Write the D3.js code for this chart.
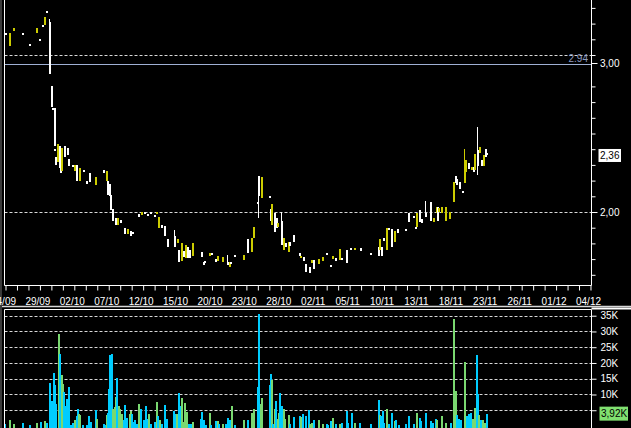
<!DOCTYPE html>
<html><head><meta charset="utf-8">
<script src="https://cdn.jsdelivr.net/npm/d3@7"></script>
<style>
html,body{margin:0;padding:0;background:#000;}
svg{display:block;}
text{font-family:"Liberation Sans",Arial,sans-serif;font-size:10px;}
</style></head>
<body>
<svg id="c" width="631" height="428"></svg>
<script>
// ---------- DATA ----------
// trading-day labels (every 3rd trading day, 2009)
const dateLabels = ["24/09","29/09","02/10","07/10","12/10","15/10","20/10","23/10","28/10",
  "02/11","05/11","10/11","13/11","18/11","23/11","26/11","01/12","04/12"];
// price bars: [slot (1/8 trading day), open, close, high?, low?]
const priceBars = [
 [2,3.14,3.13],[5,3.06,3.14],[8,3.15,3.17],[14,3.14,3.13],[19,3.07,3.06],[24,3.14,3.17],
 [26,3.10,3.09],[28,3.19,3.18],[29,3.19,3.24],[31,3.28,3.27],[33,3.21,2.88,3.23,2.88],
 [34,2.80,2.67],[35,2.665,2.65],[36,2.66,2.42],[36.3,2.40,2.39],[37,2.35,2.30],
 [38.7,2.32,2.43],[39.8,2.42,2.28],[40.5,2.30,2.25],[41.2,2.26,2.41],[43.2,2.42,2.35],
 [45,2.41,2.36],[46,2.34,2.29],[49,2.30,2.29],[50,2.28,2.265],[50.5,2.26,2.30],
 [51.6,2.30,2.20],[53.4,2.20,2.28],[56.5,2.27,2.26],[58.6,2.20,2.18],[60.7,2.25,2.19],
 [65.2,2.17,2.22],[70.4,2.27,2.25],[72.5,2.20,2.26],[73.2,2.20,2.11],[74.6,2.18,2.10],
 [75.3,2.11,2.01],[77,2.02,1.94],[78.5,1.96,1.92],[80,1.92,1.96],[82,1.95,1.93],
 [85,1.90,1.86],[87,1.86,1.89],[89,1.88,1.85],[91,1.87,1.86],[95,1.99,1.97],
 [97,1.98,2.00],[99,2.00,1.99],[101,1.99,1.98],[103.2,2.00,1.99],[105.7,1.98,1.97],
 [107.4,1.99,2.00],[108.5,1.90,1.97],[110.9,1.92,1.90],[113,1.91,1.85],[115.1,1.83,1.78],
 [120,1.85,1.78,1.885],[122,1.80,1.83],[122.8,1.76,1.68],[124.9,1.69,1.80],
 [126.2,1.75,1.715],[127.6,1.71,1.79],[129,1.78,1.71],[130.4,1.76,1.71],[132.2,1.72,1.80],
 [138.5,1.747,1.715],[140.2,1.68,1.66],[141.2,1.69,1.68],[144.4,1.72,1.74],
 [145.8,1.739,1.726],[148.6,1.70,1.68],[150,1.69,1.72],[153.5,1.68,1.715],
 [157,1.684,1.663,1.726],[158.6,1.65,1.68],[159.3,1.68,1.667],[161.8,1.726,1.715],
 [168.1,1.694,1.726],[170.9,1.83,1.74],[173.7,1.747,1.834],[175.1,1.834,1.905],
 [177.5,2.066,2.057],[178.6,2.23,2.10,2.23,1.96],[180.3,2.09,2.22],[186.2,2.102,2.091],
 [186.9,2.02,1.945],[187.6,1.917,2.051],[189.7,1.996,1.875],[191.1,1.962,1.898],
 [191.8,1.906,1.932],[194.3,1.94,1.79,2.00],[196,1.758,1.834],[197.4,1.80,1.78],
 [199.5,1.745,1.81],[200.5,1.81,1.785],[203,1.853,1.81],[206.8,1.739,1.72],
 [207.9,1.712,1.72],[210,1.712,1.69],[211.3,1.669,1.62],[213.8,1.652,1.613],
 [215.5,1.677,1.694],[217,1.694,1.635],[220.4,1.669,1.699],[222.9,1.688,1.712],
 [226.3,1.74,1.726],[228.8,1.662,1.648],[230.2,1.699,1.72],[232.3,1.705,1.69],
 [235.1,1.694,1.764],[236.4,1.705,1.694],[240,1.758,1.677],[243,1.769,1.758],
 [245.2,1.758,1.769],[249.4,1.769,1.754],[256.7,1.74,1.726],[262,1.78,1.72],
 [263,1.76,1.83],[264.5,1.78,1.72],[265.7,1.832,1.817],[267.8,1.758,1.90],
 [269.2,1.896,1.885],[271.3,1.892,1.779],[273.4,1.807,1.88],[275.2,1.89,1.864],
 [281.1,1.892,1.879],[283.2,1.992,1.938],[286.7,1.975,1.96],[288,1.906,1.896],
 [288.8,1.903,1.996],[290.9,2.013,1.938],[292,1.954,1.932],[295,1.996,1.97,2.07],
 [298.5,2.066,1.945],[300.3,1.938,1.96],[302.4,1.996,2.034],[303.3,2.034,1.945],
 [304.1,2.002,2.024],[305.9,1.992,2.034],[309,1.945,2.034],[311.8,1.955,1.998],
 [314.6,2.066,2.193],[315.6,2.229,2.183],[316.7,2.21,2.172],[318.8,2.193,2.147],
 [320.9,2.136,2.123],[322.2,2.187,2.299,2.40],[323.2,2.257,2.331],[324.7,2.314,2.272],
 [327.1,2.267,2.289],[328.5,2.289,2.257],[329.2,2.267,2.369],[331,2.395,2.295,2.543,2.236],
 [332.4,2.374,2.416],[334.1,2.331,2.293],[335.5,2.293,2.363],[336.9,2.401,2.352],
 [337.6,2.376,2.36]
];
// volume bars: [slot, volume (thousands), up(1)/down(0)]
const volumeBars = [
 [1.4,0.6,0],[4.9,1.9,1],[7.7,0.6,1],[14,1.0,0],[18.8,0.3,0],[23.7,1.0,1],[26.5,1.3,0],
 [29.3,1.6,1],[30.7,0.9,0],[32.8,13.6,0],[34.2,7.9,0],[35.6,16.8,0],[36.3,13,0],[37,7,0],
 [39.1,29.2,1],[39.8,22.9,0],[41.2,16.2,1],[41.9,13.3,1],[42.5,10.8,0],[43.9,6.3,0],
 [44.6,8.6,0],[46,12.4,0],[47.4,0.3,0],[48.8,1.0,0],[50.2,1.9,1],[51.6,3.2,0],[52.3,5.4,0],
 [53,3.8,1],[53.7,3.5,1],[55.8,0.3,0],[58.6,0.3,0],[60,3.2,0],[61.4,1.3,0],[64.9,5.1,0],
 [65.6,2.2,1],[70.4,0.6,0],[71.8,0.3,0],[72.5,3.5,1],[73.2,4.1,0],[73.9,11.7,0],
 [74.6,22.5,0],[76,22.8,0],[76.7,5.4,1],[78.1,6.0,1],[78.8,9.2,1],[79.5,15.2,0],
 [80.9,6.3,1],[81.6,5.4,1],[83,3.8,1],[84.4,1.9,0],[85.1,6.7,0],[86.5,2.5,0],[88.6,3.8,1],
 [89.3,4.8,1],[90,3.8,0],[91.4,1.4,0],[92.1,1.9,0],[93.5,0.6,0],[94.9,7.0,1],[96.3,5.4,0],
 [98.3,1.9,0],[99.7,6.3,0],[101.1,2.2,0],[101.8,3.8,1],[103.2,0.6,0],[106,1.3,0],
 [107.4,7.6,1],[108.1,3.2,0],[109.5,1.9,1],[110.9,0.6,0],[113,6.7,0],[114.4,2.2,0],
 [119.3,4.8,0],[120.7,3.8,0],[121.4,3.8,1],[122.8,10.5,0],[124.2,6.3,0],[124.9,8.9,1],
 [126.2,1.3,1],[126.9,7.3,1],[128.3,4.4,1],[129.7,0.6,0],[131.1,0.6,0],[132.2,1.3,1],
 [138.1,2.2,0],[138.8,4.4,0],[140.2,1.9,0],[141.6,0.3,0],[144.4,4.1,1],[145.1,0.3,0],
 [148.6,1.6,0],[150,1.6,1],[150.7,0.6,0],[153.5,0.6,1],[155.6,0.6,0],[156.9,2.5,0],
 [158.3,1.9,0],[159.7,6.3,1],[161.5,0.3,0],[168.1,1.9,1],[170.9,1.9,0],[173.7,4.1,1],
 [175.1,5.4,1],[177.9,12.4,0],[178.6,35.5,0],[180,7.0,1],[180.7,8.9,1],[186.2,13,0],
 [186.9,16.5,0],[187.6,14.6,1],[188.3,0.6,0],[189.7,5.4,1],[190.4,7.9,0],[191.5,2.2,1],
 [192.5,4.1,1],[193.2,10.5,0],[194.6,6.3,0],[196,5.4,1],[196.7,2.2,1],[199.5,3.5,1],
 [200.5,0.6,0],[203,2.9,0],[207.2,3.2,0],[207.9,2.9,1],[209.3,3.8,0],[211.3,3.2,0],
 [213.4,5.1,0],[214.1,0.6,1],[215.5,0.9,1],[216.9,1.9,0],[220.4,1.9,1],[222.9,0.6,1],
 [226,0.6,0],[227,0.3,0],[228.8,1.6,0],[230.2,2.5,1],[232.3,0.6,0],[235.1,0.6,1],
 [236.4,0.9,0],[240,4.8,0],[240.7,0.9,0],[243.5,4.1,0],[245.5,0.9,1],[249,0.9,0],
 [256.7,0.6,0],[262.3,8.2,0],[263,3.5,1],[263.7,3.2,0],[265,4.8,0],[265.7,0.9,0],
 [267.8,5.4,1],[269.2,0.6,0],[271.3,4.1,0],[273.4,1.6,1],[274.1,1.9,0],[276.2,0.3,0],
 [281.1,0.6,0],[283.2,3.2,0],[286.7,0.6,0],[288.8,4.1,1],[290.9,2.5,0],[291.6,1.6,0],
 [295,4.1,0],[298.5,1.7,0],[299.9,0.9,0],[302,2.3,0],[302.7,1.9,1],[306.2,3.2,1],
 [309,1.0,1],[312.5,1.0,0],[314.6,34,1],[316,11.1,1],[316.7,3.5,0],[318.1,2.3,0],
 [319.5,1.9,0],[322.2,20.3,1],[323.6,3.2,0],[325,3.9,0],[326.4,4.1,0],[327.8,2.3,1],
 [329.2,5.7,1],[330.6,22.5,0],[331.3,10.2,0],[332,3.5,1],[333.4,2.0,0],[334.8,1.8,1],
 [336.2,1.0,1],[337.6,3.92,0]
];
const priceMinorTicks = [1.6,1.7,1.8,1.9,2.0,2.1,2.2,2.3,2.4,2.5,2.6,2.7,2.8,3.0,3.1,3.2,3.3];
const priceGrid = [2.0, 3.0];
const refLevel = 2.94;
const lastPrice = 2.36;
const volTicks = [5,10,15,20,25,30,35];
const volLabelTicks = [10,15,20,25,30,35];
const lastVolume = 3.92;

// ---------- LAYOUT ----------
const svg = d3.select("#c");
const L = 4.5, R = 591.5, PT = 0, PB = 285.5, VT = 309.5, VB = 428;
const x = d3.scaleLinear().domain([0, 51]).range([3, 588]);
const yP = d3.scaleLinear().domain([2, 3]).range([212, 55]);
const yV = d3.scaleLinear().domain([0, 35]).range([426, 315.7]);
const slotX = s => x(s / 8);
const YEL = "#cccc00", WHT = "#ffffff", CYAN = "#00ccff", GRN = "#7ad870";
const fmt = v => d3.format(".2f")(v).replace(".", ",");

svg.append("rect").attr("width",631).attr("height",428).attr("fill","#000");
svg.append("rect").attr("x",0).attr("y",0).attr("width",2).attr("height",428).attr("fill","#3a3a3a");

svg.append("defs").append("clipPath").attr("id","pclip")
  .append("rect").attr("x",5).attr("y",0).attr("width",R-5).attr("height",PB);

// price gridlines
svg.append("g").selectAll("line").data(priceGrid).join("line")
  .attr("x1",L).attr("x2",R).attr("y1",d=>Math.round(yP(d))+0.5).attr("y2",d=>Math.round(yP(d))+0.5)
  .attr("stroke","#d8d8d8").attr("stroke-dasharray","3,2");
// reference line 2.94
svg.append("line").attr("x1",L).attr("x2",R)
  .attr("y1",Math.round(yP(refLevel))+0.5).attr("y2",Math.round(yP(refLevel))+0.5)
  .attr("stroke","#9fb0d4").attr("stroke-width",1);
svg.append("text").attr("x",588).attr("y",yP(refLevel)-2).attr("text-anchor","end")
  .attr("fill","#8c9cc0").text(d3.format(".2f")(refLevel));

// candles
const cg = svg.append("g").attr("clip-path","url(#pclip)").attr("shape-rendering","crispEdges");
priceBars.forEach(b => {
  const [s,o,c] = b;
  const hi = b.length > 3 ? b[3] : Math.max(o,c);
  const lo = b.length > 4 ? b[4] : Math.min(o,c);
  const col = c >= o ? YEL : WHT;
  const xc = slotX(s);
  if (hi > Math.max(o,c) || lo < Math.min(o,c)) {
    cg.append("rect").attr("x",xc-1).attr("width",1).attr("y",yP(hi))
      .attr("height",Math.max(1,yP(lo)-yP(hi))).attr("fill",col);
  }
  const t = yP(Math.max(o,c)), bt = yP(Math.min(o,c));
  cg.append("rect").attr("x",xc-1).attr("width",2).attr("y",t)
    .attr("height",Math.max(2,bt-t)).attr("fill",col);
});

// price panel frame
svg.append("line").attr("x1",L).attr("x2",L).attr("y1",0).attr("y2",PB).attr("stroke","#fff");
svg.append("line").attr("x1",L).attr("x2",R).attr("y1",PB).attr("y2",PB).attr("stroke","#fff");

// right price axis (minor ticks)
const pAxis = d3.axisRight(yP).tickValues(priceMinorTicks).tickSize(4).tickFormat("");
const pg = svg.append("g").attr("transform",`translate(${R},0)`).call(pAxis);
pg.select(".domain").attr("stroke","#fff").attr("d",`M0,0V${PB}`);
pg.selectAll(".tick line").attr("stroke","#fff");
// labels
const labelDefs = [{v:3.0, dy:8}, {v:2.0, dy:0}];
labelDefs.forEach(l => {
  const yy = yP(l.v) + l.dy;
  svg.append("line").attr("x1",R).attr("x2",R+6).attr("y1",Math.round(yy)+0.5).attr("y2",Math.round(yy)+0.5).attr("stroke","#fff");
  svg.append("text").attr("x",600).attr("y",yy+3.6).attr("fill","#fff").text(fmt(l.v));
});
// last price box
svg.append("rect").attr("x",598.5).attr("y",yP(lastPrice)-6.5).attr("width",22.5).attr("height",13).attr("fill","#fff");
svg.append("text").attr("x",600).attr("y",yP(lastPrice)+3.6).attr("fill","#000").text(fmt(lastPrice));

// date axis
const days = d3.range(0, 52);
const xAxis = d3.axisBottom(x).tickValues(days).tickSize(5).tickPadding(7.5)
  .tickFormat(d => d % 3 === 0 ? dateLabels[d/3] : "");
const xg = svg.append("g").attr("transform",`translate(2.5,${PB})`).call(xAxis);
xg.select(".domain").remove();
xg.selectAll(".tick line").attr("stroke","#fff");
xg.selectAll(".tick text").attr("fill","#fff").attr("dx",-2.5)
  .style("font-family",'"Liberation Sans",Arial,sans-serif').style("font-size","10px");

// separator
svg.append("line").attr("x1",2).attr("x2",631).attr("y1",306.5).attr("y2",306.5).attr("stroke","#d8d8d8").attr("stroke-width",1.5);

// volume grid
svg.append("g").selectAll("line").data(volTicks).join("line")
  .attr("x1",L).attr("x2",R).attr("y1",d=>Math.round(yV(d))+0.5).attr("y2",d=>Math.round(yV(d))+0.5)
  .attr("stroke","#d8d8d8").attr("stroke-dasharray","3,2");

// volume bars
const vg = svg.append("g").attr("shape-rendering","crispEdges");
vg.selectAll("rect").data(volumeBars).join("rect")
  .attr("x",d=>slotX(d[0])-1).attr("width",2)
  .attr("y",d=>yV(d[1])).attr("height",d=>VB - yV(d[1]) + 2)
  .attr("fill",d=>d[2] ? GRN : CYAN);

// volume frame
svg.append("line").attr("x1",L).attr("x2",R).attr("y1",VT).attr("y2",VT).attr("stroke","#fff");
svg.append("line").attr("x1",L).attr("x2",L).attr("y1",VT).attr("y2",VB).attr("stroke","#fff");
svg.append("line").attr("x1",R).attr("x2",631).attr("y1",VT-1).attr("y2",VT-1).attr("stroke","#fff").attr("stroke-width",2);

// volume axis (5K label is hidden behind the last-volume box in the reference)
const vAxis = d3.axisRight(yV).tickValues(volTicks).tickSize(5).tickPadding(4)
  .tickFormat(d => volLabelTicks.includes(d) ? d + "K" : "");
const vga = svg.append("g").attr("transform",`translate(${R},0)`).call(vAxis);
vga.select(".domain").attr("stroke","#fff").attr("d",`M0,${VT}V${VB}`);
vga.selectAll(".tick line").attr("stroke","#fff");
vga.selectAll(".tick text").attr("fill","#fff")
  .style("font-family",'"Liberation Sans",Arial,sans-serif').style("font-size","10px");

// last volume box
svg.append("rect").attr("x",599.5).attr("y",yV(lastVolume)-7).attr("width",28.5).attr("height",14).attr("fill","#80e070");
svg.append("text").attr("x",601).attr("y",yV(lastVolume)+3.6).attr("fill","#000")
  .text(d3.format(".2f")(lastVolume).replace(".",",") + "K");
</script>
</body></html>
